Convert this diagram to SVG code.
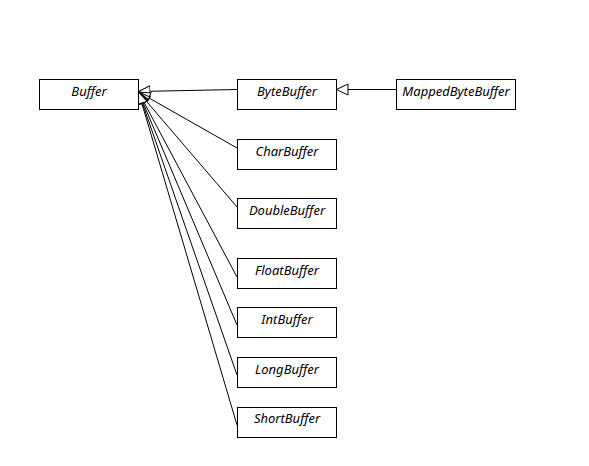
<svg xmlns="http://www.w3.org/2000/svg" width="589" height="466" viewBox="0 0 589 466">
<style>
.box{fill:#fff;stroke:#000;stroke-width:1}
.lbl{font-family:"Noto Sans","Liberation Sans",sans-serif;font-style:italic;font-size:13px;fill:#000;text-anchor:middle;dominant-baseline:central}
.con{stroke:#000;stroke-width:1;fill:none;marker-end:url(#tri)}
</style>
<defs>
<marker id="tri" markerUnits="userSpaceOnUse" markerWidth="14" markerHeight="14" refX="12" refY="6" orient="auto">
<path d="M0.5,0.5 L12,6 L0.5,11.5 z" fill="#fff" stroke="#000" stroke-width="1"/>
</marker>
</defs>
<rect width="589" height="466" fill="#fff"/>
<g id="connectors">
<line class="con" x1="237" y1="89.5" x2="138.5" y2="91.5"/>
<line class="con" x1="396" y1="89.5" x2="336.5" y2="89.5"/>
<line class="con" x1="237" y1="148" x2="138.5" y2="92"/>
<line class="con" x1="237" y1="207" x2="138.5" y2="92"/>
<line class="con" x1="237" y1="277" x2="138.5" y2="92"/>
<line class="con" x1="237" y1="325" x2="138.5" y2="92"/>
<line class="con" x1="237" y1="375" x2="138.5" y2="92"/>
<line class="con" x1="237" y1="425" x2="138.5" y2="92"/>
</g>
<g id="Buffer"><rect class="box" x="39.5" y="79.5" width="99" height="30"/><text class="lbl" x="89" y="91">Buffer</text></g>
<g id="ByteBuffer"><rect class="box" x="237.5" y="79.5" width="99" height="30"/><text class="lbl" x="287" y="91">ByteBuffer</text></g>
<g id="MappedByteBuffer"><rect class="box" x="396.5" y="79.5" width="119" height="30"/><text class="lbl" x="456" y="91">MappedByteBuffer</text></g>
<g id="CharBuffer"><rect class="box" x="237.5" y="139.5" width="99" height="30"/><text class="lbl" x="287" y="151">CharBuffer</text></g>
<g id="DoubleBuffer"><rect class="box" x="237.5" y="198.5" width="99" height="30"/><text class="lbl" x="287" y="210">DoubleBuffer</text></g>
<g id="FloatBuffer"><rect class="box" x="237.5" y="258.5" width="99" height="30"/><text class="lbl" x="287" y="270">FloatBuffer</text></g>
<g id="IntBuffer"><rect class="box" x="237.5" y="307.5" width="99" height="30"/><text class="lbl" x="287" y="319">IntBuffer</text></g>
<g id="LongBuffer"><rect class="box" x="237.5" y="357.5" width="99" height="30"/><text class="lbl" x="287" y="369">LongBuffer</text></g>
<g id="ShortBuffer"><rect class="box" x="237.5" y="407.5" width="99" height="30"/><text class="lbl" x="287" y="418">ShortBuffer</text></g>
</svg>
